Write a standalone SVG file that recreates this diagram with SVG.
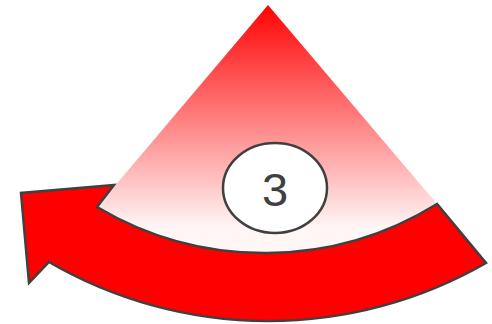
<svg xmlns="http://www.w3.org/2000/svg" width="492" height="324" viewBox="0 0 492 324">
  <style>
    .outline { stroke: #404040; stroke-width: 2.5; stroke-linejoin: miter; }
    .label { font-family: "Liberation Sans", Arial, sans-serif; font-size: 47px; fill: #404040; text-anchor: middle; }
  </style>
  <defs>
    <linearGradient id="sectorGrad" gradientUnits="userSpaceOnUse" x1="0" y1="2" x2="0" y2="228">
      <stop offset="0" stop-color="#ff0000"/>
      <stop offset="1" stop-color="#fff6f6"/>
    </linearGradient>
  </defs>
  <g id="sector">
    <path d="M 268 5 L 97 207 A 328 328 0 0 0 437 204 Z" fill="url(#sectorGrad)"/>
  </g>
  <g id="arrow">
    <path class="outline" fill="#ff0000" d="M 97 207 A 328 328 0 0 0 437 204 L 486 263 A 437 437 0 0 1 49 262 L 29 283 L 21 193 L 114 185 Z"/>
  </g>
  <g id="badge">
    <ellipse class="outline" cx="275" cy="188" rx="52" ry="45" fill="#ffffff" stroke-width="1.8"/>
    <text class="label" x="275" y="206">3</text>
  </g>
</svg>
